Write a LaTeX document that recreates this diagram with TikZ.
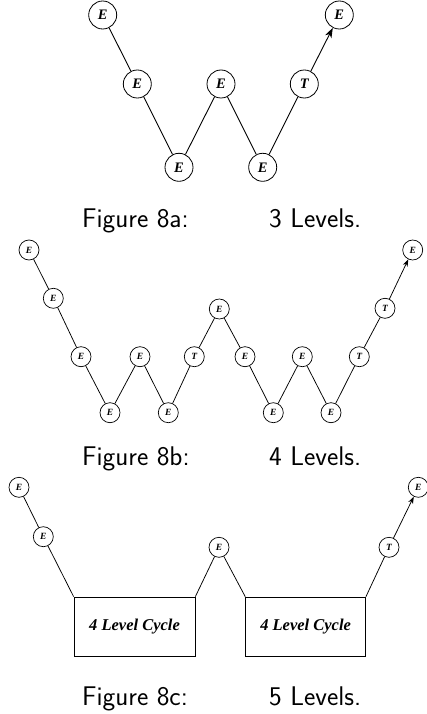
\documentclass[tikz,border=0pt]{standalone}
\usepackage{fontspec}
\newfontfamily\tms{Liberation Serif}
\usetikzlibrary{arrows.meta}
\begin{document}
\begin{tikzpicture}[x=1pt,y=-1pt,
  bigE/.style={circle,draw,line width=0.8pt,minimum size=28pt,inner sep=0pt,
    font=\tms\bfseries\itshape\fontsize{14.5}{15}\selectfont},
  smallE/.style={circle,draw,line width=0.7pt,minimum size=20pt,inner sep=0pt,
    font=\tms\bfseries\itshape\fontsize{9.5}{10}\selectfont},
  cyclebox/.style={draw,line width=0.7pt,inner sep=0pt,
    font=\tms\bfseries\itshape\fontsize{16.5}{17}\selectfont},
  bigline/.style={line width=0.9pt},
  smallline/.style={line width=0.75pt},
  caption/.style={anchor=base west,inner sep=0pt,font=\sffamily\fontsize{27}{31}\selectfont}
]
\useasboundingbox (0,0) rectangle (427,714);

% ---------- Figure 8a ----------
\node[bigE] (a1) at (102.7,15) {E};
\node[bigE] (a2) at (137.3,84) {E};
\node[bigE] (a3) at (179,167.3) {E};
\node[bigE] (a4) at (221,84) {E};
\node[bigE] (a5) at (262.7,167.3) {E};
\node[bigE] (a6) at (304.3,84) {T};
\node[bigE] (a7) at (339.3,15) {E};
\draw[bigline] (a1) -- (a2) -- (a3) -- (a4) -- (a5) -- (a6);
\draw[bigline,-{Stealth[length=10pt,width=7pt,inset=3pt]}] (a6) -- (a7);
\node[caption] (ca1) at (82,227) {Figure 8a:};
\node[caption] (ca2) at (269,227) {3 Levels.};

% ---------- Figure 8b ----------
\node[smallE] (b1) at (29,250) {E};
\node[smallE] (b2) at (53.3,298.3) {E};
\node[smallE] (b3) at (81,356.7) {E};
\node[smallE] (b4) at (110,412.7) {E};
\node[smallE] (b5) at (140,356.7) {E};
\node[smallE] (b6) at (168.3,412.7) {E};
\node[smallE] (b7) at (194.3,356.7) {T};
\node[smallE] (b8) at (219.3,309) {E};
\node[smallE] (b9) at (245,356.7) {E};
\node[smallE] (b10) at (273.3,412.7) {E};
\node[smallE] (b11) at (302.3,356.7) {E};
\node[smallE] (b12) at (331,412.7) {E};
\node[smallE] (b13) at (359.3,356.7) {T};
\node[smallE] (b14) at (385,308.3) {T};
\node[smallE] (b15) at (412.7,250) {E};
\draw[smallline] (b1) -- (b2) -- (b3) -- (b4) -- (b5) -- (b6) -- (b7) -- (b8)
  -- (b9) -- (b10) -- (b11) -- (b12) -- (b13) -- (b14);
\draw[smallline,-{Stealth[length=7pt,width=5pt,inset=2pt]}] (b14) -- (b15);
\node[caption] (cb1) at (82,465) {Figure 8b:};
\node[caption] (cb2) at (269,465) {4 Levels.};

% ---------- Figure 8c ----------
\node[smallE] (c1) at (19,487.3) {E};
\node[smallE] (c2) at (43.3,536.7) {E};
\node[cyclebox,minimum width=121pt,minimum height=59pt] (box1) at (134.5,626.5) {4 Level Cycle};
\node[smallE] (c3) at (219,547.3) {E};
\node[cyclebox,minimum width=120pt,minimum height=59pt] (box2) at (305.6,626.5) {4 Level Cycle};
\node[smallE] (c4) at (389,547.3) {T};
\node[smallE] (c5) at (418.3,487.3) {E};
\draw[smallline] (c1) -- (c2) -- (box1.north west);
\draw[smallline] (box1.north east) -- (c3) -- (box2.north west);
\draw[smallline] (box2.north east) -- (c4);
\draw[smallline,-{Stealth[length=7pt,width=5pt,inset=2pt]}] (c4) -- (c5);
\node[caption] (cc1) at (82,705) {Figure 8c:};
\node[caption] (cc2) at (269,705) {5 Levels.};
\end{tikzpicture}
\end{document}
